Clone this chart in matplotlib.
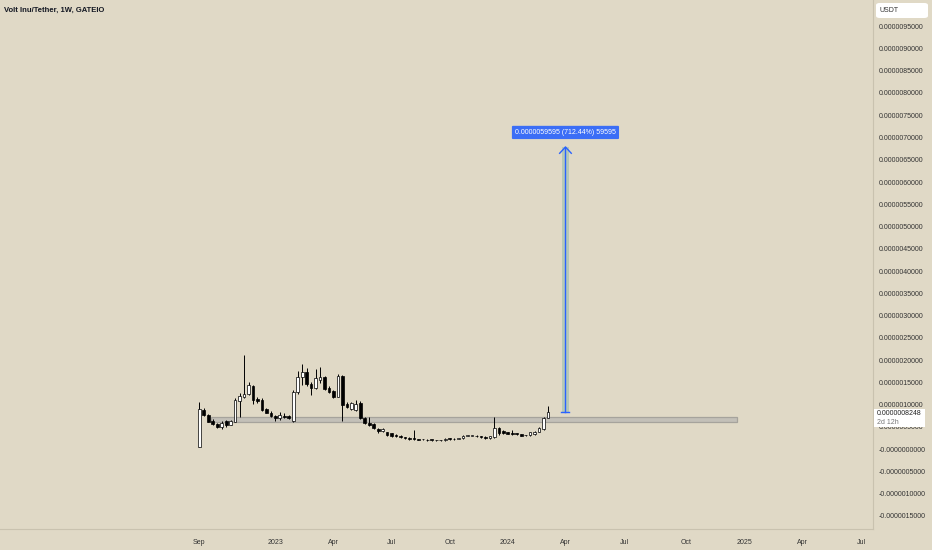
import numpy as np
import pandas as pd
import matplotlib
matplotlib.use("Agg")
import matplotlib.pyplot as plt
from matplotlib.patches import Rectangle, FancyBboxPatch

plt.rcParams['font.family'] = ['Liberation Sans', 'DejaVu Sans']

# ---- data: weekly candles, prices in units of 1e-6 USDT ----
SCALE = 1e-6
start_week = "2022-09-05"

opens = [0.06, 0.889, 0.766, 0.638, 0.564, 0.490, 0.624, 0.548, 0.615, 1.080,
         1.170, 1.231, 1.417, 1.137, 1.114, 0.894, 0.818, 0.750, 0.705, 0.755,
         0.743, 0.638, 1.276, 1.613, 1.739, 1.456, 1.366, 1.552, 1.613, 1.366,
         1.305, 1.177, 1.642, 1.013, 0.901, 0.878, 1.029, 0.692, 0.593, 0.564,
         0.445, 0.407, 0.377, 0.355, 0.323, 0.301, 0.272, 0.256, 0.243, 0.227,
         0.220, 0.216, 0.209, 0.204, 0.202, 0.204, 0.234, 0.229, 0.238, 0.243,
         0.301, 0.303, 0.303, 0.290, 0.279, 0.243, 0.279, 0.467, 0.407, 0.377,
         0.368, 0.344, 0.332, 0.317, 0.317, 0.332, 0.391, 0.451, 0.705]
highs = [1.06, 0.923, 0.788, 0.676, 0.586, 0.631, 0.654, 0.654, 1.148, 1.260,
         2.114, 1.514, 1.440, 1.177, 1.148, 0.923, 0.856, 0.777, 0.840, 0.811,
         0.766, 1.328, 1.754, 1.905, 1.828, 1.507, 1.799, 1.851, 1.642, 1.417,
         1.328, 1.680, 1.664, 1.065, 1.058, 1.103, 1.080, 0.721, 0.728, 0.586,
         0.485, 0.485, 0.395, 0.373, 0.339, 0.317, 0.283, 0.272, 0.429, 0.238,
         0.227, 0.227, 0.216, 0.213, 0.213, 0.243, 0.243, 0.249, 0.254, 0.312,
         0.312, 0.317, 0.312, 0.299, 0.290, 0.299, 0.728, 0.503, 0.429, 0.395,
         0.429, 0.355, 0.339, 0.328, 0.389, 0.407, 0.496, 0.721, 0.968]
lows = [0.05, 0.744, 0.609, 0.541, 0.485, 0.451, 0.503, 0.541, 0.609, 0.721,
        1.148, 1.215, 1.013, 1.035, 0.857, 0.811, 0.721, 0.638, 0.654, 0.699,
        0.687, 0.615, 1.231, 1.440, 1.417, 1.215, 1.350, 1.485, 1.328, 1.260,
        1.148, 1.170, 0.638, 0.923, 0.878, 0.856, 0.676, 0.564, 0.519, 0.451,
        0.373, 0.384, 0.305, 0.283, 0.272, 0.261, 0.238, 0.204, 0.204, 0.204,
        0.200, 0.193, 0.191, 0.189, 0.186, 0.193, 0.216, 0.216, 0.227, 0.236,
        0.290, 0.288, 0.281, 0.261, 0.238, 0.236, 0.256, 0.317, 0.350, 0.335,
        0.328, 0.321, 0.290, 0.299, 0.305, 0.321, 0.384, 0.440, 0.699]
closes = [0.90, 0.766, 0.615, 0.564, 0.503, 0.593, 0.541, 0.624, 1.103, 1.204,
          1.238, 1.440, 1.103, 1.092, 0.879, 0.818, 0.743, 0.692, 0.766, 0.732,
          0.705, 1.289, 1.613, 1.725, 1.456, 1.366, 1.604, 1.626, 1.343, 1.289,
          1.164, 1.642, 0.991, 0.952, 1.029, 1.013, 0.692, 0.580, 0.541, 0.467,
          0.407, 0.451, 0.323, 0.301, 0.288, 0.272, 0.249, 0.220, 0.220, 0.216,
          0.211, 0.204, 0.200, 0.198, 0.195, 0.234, 0.227, 0.238, 0.243, 0.301,
          0.303, 0.305, 0.290, 0.272, 0.249, 0.288, 0.467, 0.368, 0.368, 0.346,
          0.339, 0.335, 0.301, 0.310, 0.377, 0.391, 0.481, 0.705, 0.8248]

last_price = 0.8248
zone_low, zone_high = 0.609, 0.714          # grey support zone
measure_base, measure_delta = 0.8265, 5.9595
measure_pct = 712.44

# ---- derived ----
o = np.array(opens) * SCALE
h = np.array(highs) * SCALE
l = np.array(lows) * SCALE
c = np.array(closes) * SCALE
idx = np.arange(len(o))

bg = '#E0D9C6'
fig = plt.figure(figsize=(9.32, 5.5), dpi=100, facecolor=bg)
ax = fig.add_axes([0, 1 - 529 / 550, 873 / 932, 529 / 550], facecolor=bg)

# support zone
ax.add_patch(Rectangle((2.6, zone_low * SCALE), 120.2 - 2.6,
                       (zone_high - zone_low) * SCALE,
                       fc='#C3C0B8', ec='#A6A39C', lw=0.9, zorder=1))

# candles
ax.vlines(idx, l, h, color='black', lw=0.7, zorder=2)
up = c >= o
body_h = np.where(np.abs(c - o) < 0.01 * SCALE, 0.01 * SCALE, c - o)
ax.bar(idx, body_h, bottom=o, width=0.6,
       color=np.where(up, 'white', 'black'), edgecolor='black', lw=0.5, zorder=3)

# measuring arrow
xm = 81.9
y0 = measure_base * SCALE
y1 = (measure_base + measure_delta) * SCALE
ax.add_patch(Rectangle((81.1, y0), 1.6, y1 - y0, fc='#B5C9B7', ec='none', zorder=2))
blue = '#2962FF'
ax.plot([xm, xm], [y0, y1], color=blue, lw=1.0, zorder=4)
ax.plot([80.85, 82.8], [y0, y0], color=blue, lw=1.0, zorder=4)
ax.plot([xm - 1.3, xm, xm + 1.3], [y1 - 0.14 * SCALE, y1, y1 - 0.14 * SCALE],
        color=blue, lw=1.0, zorder=4)
ax.annotate(f"{measure_delta / 1e6:.10f} ({measure_pct:.2f}%) {int(measure_delta * 1e4)}",
            xy=(xm, y1), xytext=(0, 10.5), textcoords='offset points',
            ha='center', va='center', fontsize=5, color='white', zorder=5,
            bbox=dict(boxstyle='round,pad=0.45,rounding_size=0.15',
                      fc='#3B6EF6', ec='none'))

# axes ranges
ax.set_xlim(-44.6, 150.7)
ax.set_ylim(-1.792 * SCALE, 10.088 * SCALE)

# x ticks on first bar of each quarter month (skip ones too close together)
weeks = pd.date_range(start_week, periods=152, freq='W-MON')
xt, xl = [0], ['Sep']
for i in range(1, len(weeks)):
    if weeks[i].month != weeks[i - 1].month and weeks[i].month in (1, 4, 7, 10):
        if i - xt[-1] < 8:
            continue
        xt.append(i)
        xl.append(str(weeks[i].year) if weeks[i].month == 1 else weeks[i].strftime('%b'))
ax.set_xticks(xt)
ax.set_xticklabels(xl, fontsize=5, color='#333333')
ax.tick_params(axis='x', length=0, pad=7.5)

# y ticks on right
yt = np.arange(-1.5, 10.0, 0.5)
ax.yaxis.tick_right()
ax.set_yticks(yt * SCALE)
ax.set_yticklabels(['-0.0000000000' if abs(v) < 1e-9 else f"{v / 1e6:.10f}" for v in yt],
                   fontsize=5, color='#333333')
ax.tick_params(axis='y', length=0, pad=4)

for s in ['top', 'left']:
    ax.spines[s].set_visible(False)
for s in ['right', 'bottom']:
    ax.spines[s].set_color('#C9C2AF')
    ax.spines[s].set_linewidth(0.8)

# title
fig.text(4 / 932, 1 - 10 / 550, "Volt Inu/Tether, 1W, GATEIO", fontsize=5.5,
         fontweight='bold', color='#131722', ha='left', va='center')

# USDT box
fig.patches.append(FancyBboxPatch((876 / 932, 1 - 18 / 550), 52 / 932, 15 / 550,
                                  boxstyle='round,pad=0,rounding_size=0.004',
                                  transform=fig.transFigure, fc='white', ec='none'))
fig.text(880 / 932, 1 - 10.5 / 550, "USDT", fontsize=5, color='#333333',
         ha='left', va='center')

# last price label
fig.patches.append(Rectangle((874 / 932, 1 - 427 / 550), 51 / 932, 18 / 550,
                             transform=fig.transFigure, fc='white', ec='none', zorder=3))
fig.text(877 / 932, 1 - 413.5 / 550, f"{last_price / 1e6:.10f}", fontsize=5,
         color='#222222', ha='left', va='center', zorder=4)
fig.text(877 / 932, 1 - 422.5 / 550, "2d 12h", fontsize=5, color='#777777',
         ha='left', va='center', zorder=4)

fig.savefig("out.png", dpi=100, facecolor=bg)
